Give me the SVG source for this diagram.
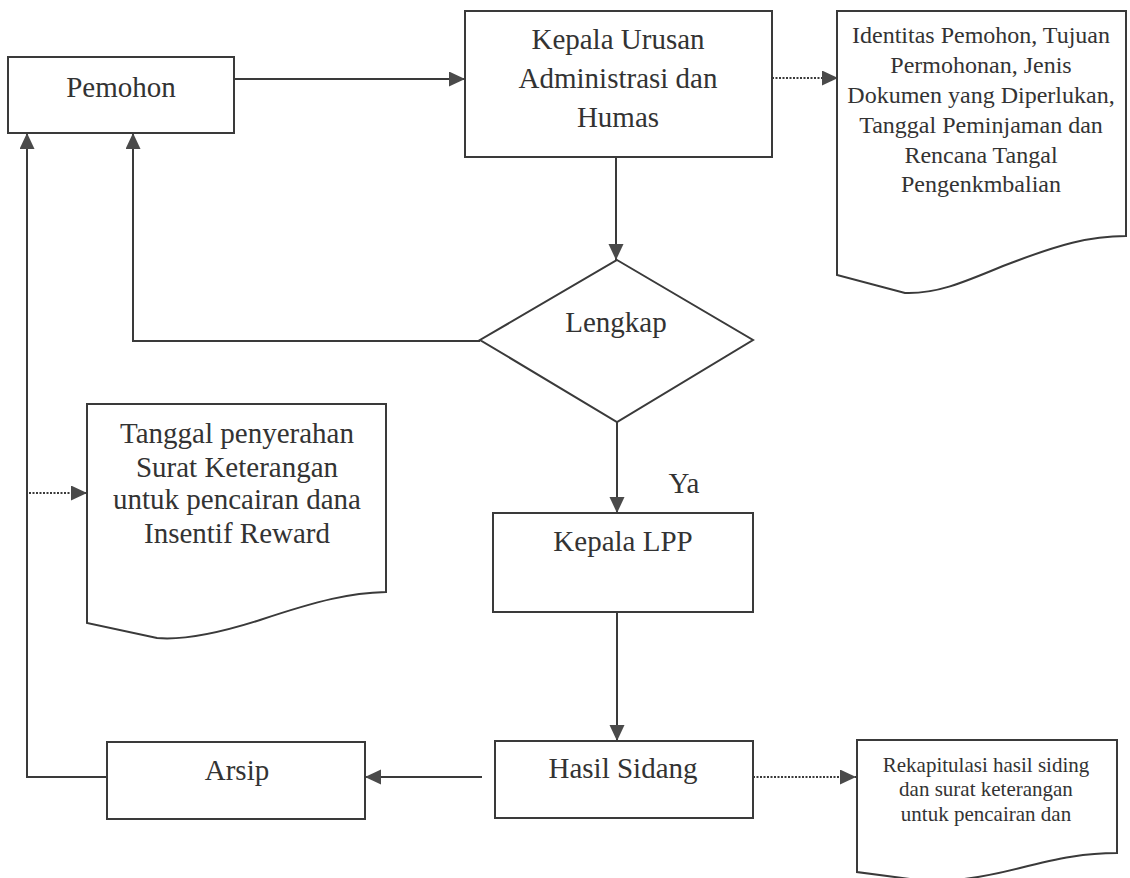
<svg xmlns="http://www.w3.org/2000/svg" width="1130" height="878" viewBox="0 0 1130 878">
<style>
.box{fill:#fff;stroke:#3a3a3a;stroke-width:2}
.t{font-family:"Liberation Serif","Times New Roman",serif;fill:#333;text-anchor:middle}
.big{font-size:29px}
.mid{font-size:24px}
.sm{font-size:21px}
.ln{fill:none;stroke:#3a3a3a;stroke-width:2}
.dot{fill:none;stroke:#3a3a3a;stroke-width:2;stroke-dasharray:2 1.5}
</style>
<defs>
<marker id="ah" markerUnits="userSpaceOnUse" markerWidth="18" markerHeight="16" refX="16" refY="7.5" orient="auto">
<path d="M0,0 L16,7.5 L0,15 Z" fill="#4a4a4a"/>
</marker>
</defs>
<rect width="1130" height="878" fill="#fff"/>
<g id="connectors">
<path class="ln" d="M234 79 H465" marker-end="url(#ah)"/>
<path class="dot" d="M772 78 H838" marker-end="url(#ah)"/>
<path class="ln" d="M616 157 V260" marker-end="url(#ah)"/>
<path class="ln" d="M480 341 H133 V133" marker-end="url(#ah)"/>
<path class="ln" d="M617 422 V513" marker-end="url(#ah)"/>
<path class="ln" d="M617 612 V741" marker-end="url(#ah)"/>
<path class="ln" d="M482 777 H365" marker-end="url(#ah)"/>
<path class="ln" d="M107 777 H27 V133" marker-end="url(#ah)"/>
<path class="dot" d="M29 493 H87" marker-end="url(#ah)"/>
<path class="dot" d="M753 777 H856" marker-end="url(#ah)"/>
</g>
<g id="pemohon">
<rect class="box" x="8" y="57" width="226" height="76"/>
<text class="t big" x="121" y="97">Pemohon</text>
</g>
<g id="kepala-urusan">
<rect class="box" x="465" y="11" width="307" height="146"/>
<text class="t big" x="618" y="49">Kepala Urusan</text>
<text class="t big" x="618" y="88">Administrasi dan</text>
<text class="t big" x="618" y="127">Humas</text>
</g>
<g id="doc-identitas">
<path class="box" d="M837 11 H1126 V236 C1090 236 1060 244 1003 266 C960 284 935 294 905 293 L837 275 Z"/>
<text class="t mid" x="981" y="43">Identitas Pemohon, Tujuan</text>
<text class="t mid" x="981" y="73">Permohonan, Jenis</text>
<text class="t mid" x="981" y="103">Dokumen yang Diperlukan,</text>
<text class="t mid" x="981" y="133">Tanggal Peminjaman dan</text>
<text class="t mid" x="981" y="163">Rencana Tangal</text>
<text class="t mid" x="981" y="192">Pengenkmbalian</text>
</g>
<g id="lengkap">
<path class="box" d="M617 260 L753 340 L617 422 L480 340 Z"/>
<text class="t big" x="616" y="332">Lengkap</text>
</g>
<g id="doc-tanggal">
<path class="box" d="M87 404 H386 V592 C350 593 320 600 260 620 C210 636 180 640 157 638 L87 623 Z"/>
<text class="t big" x="237" y="443">Tanggal penyerahan</text>
<text class="t big" x="237" y="477">Surat Keterangan</text>
<text class="t big" x="237" y="509">untuk pencairan dana</text>
<text class="t big" x="237" y="543">Insentif Reward</text>
</g>
<g id="label-ya">
<text class="t big" x="684" y="493">Ya</text>
</g>
<g id="kepala-lpp">
<rect class="box" x="493" y="513" width="260" height="99"/>
<text class="t big" x="623" y="551">Kepala LPP</text>
</g>
<g id="hasil-sidang">
<rect class="box" x="495" y="741" width="258" height="77"/>
<text class="t big" x="623" y="778">Hasil Sidang</text>
</g>
<g id="arsip">
<rect class="box" x="107" y="742" width="258" height="77"/>
<text class="t big" x="237" y="780">Arsip</text>
</g>
<g id="doc-rekap">
<path class="box" d="M857 740 H1117 V853 C1085 853 1060 858 1020 868 C985 877 950 882 925 881 L857 872 Z"/>
<text class="t sm" x="986" y="772">Rekapitulasi hasil siding</text>
<text class="t sm" x="986" y="796">dan surat keterangan</text>
<text class="t sm" x="986" y="821">untuk pencairan dan</text>
</g>
</svg>
